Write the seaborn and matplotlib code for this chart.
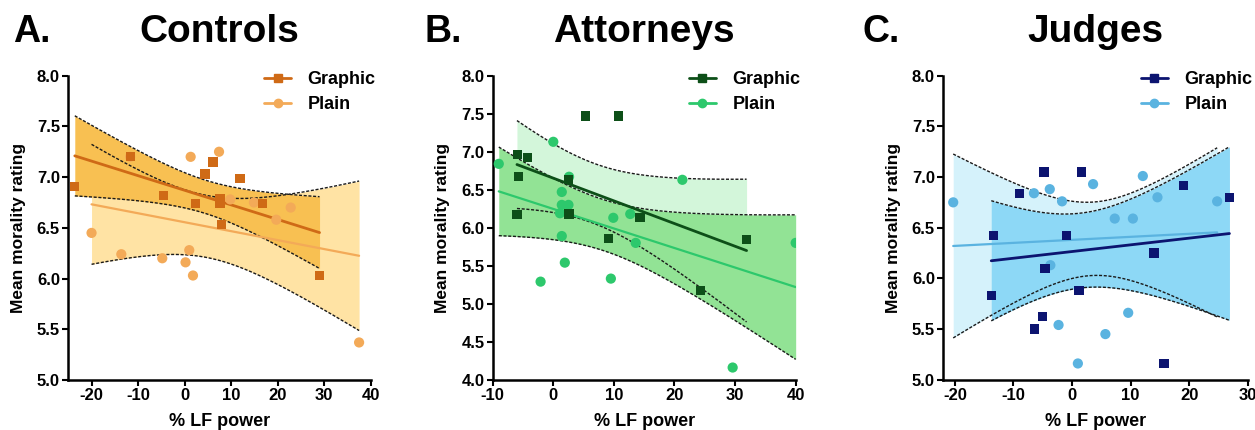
import math
import numpy as np
import matplotlib
matplotlib.use("Agg")
import matplotlib.pyplot as plt
from matplotlib.lines import Line2D
import seaborn as sns

# ------------------------------------------------------------------ data
ctrl_graphic_x = [-23.6, -11.7, -4.6, 2.4, 4.4, 6.1, 7.6, 7.6, 8.0, 11.9, 16.7, 29.0]
ctrl_graphic_y = [6.91, 7.20, 6.82, 6.74, 7.03, 7.15, 6.79, 6.74, 6.53, 6.99, 6.74, 6.03]
ctrl_plain_x = [-20.0, -13.6, -11.7, -4.8, 0.2, 1.8, 1.0, 1.3, 7.4, 9.8, 14.9, 19.7, 22.8, 37.5]
ctrl_plain_y = [6.45, 6.24, 7.20, 6.20, 6.16, 6.03, 6.28, 7.20, 7.25, 6.78, 6.75, 6.58, 6.70, 5.37]

att_graphic_x = [-5.9, -4.3, -5.8, -6.0, 2.5, 2.6, 5.3, 10.7, 9.1, 14.3, 31.9, 24.3]
att_graphic_y = [6.96, 6.92, 6.67, 6.17, 6.63, 6.18, 7.47, 7.47, 5.86, 6.13, 5.84, 5.17]
att_plain_x = [-9.0, 0.0, 1.4, 2.6, 1.4, 2.5, 1.1, 1.4, 1.9, -2.1, 9.5, 9.9, 12.7, 13.6, 21.3, 40.0, 29.6]
att_plain_y = [6.84, 7.13, 6.47, 6.67, 6.30, 6.30, 6.19, 5.89, 5.54, 5.29, 5.33, 6.13, 6.18, 5.80, 6.63, 5.80, 4.16]

judge_graphic_x = [-13.4, -13.8, -9.0, -4.8, -4.6, -1.0, 1.6, 1.2, 14.0, 19.1, 26.9, -5.0, -6.4, 15.7]
judge_graphic_y = [6.42, 5.83, 6.84, 7.05, 6.10, 6.42, 7.05, 5.88, 6.25, 6.92, 6.80, 5.62, 5.50, 5.16]
judge_plain_x = [-20.3, -6.5, -3.8, -1.7, 3.6, 7.3, 10.4, 12.1, 14.6, 24.8, -3.7, -2.3, 5.7, 9.6, 1.0]
judge_plain_y = [6.75, 6.84, 6.88, 6.76, 6.93, 6.59, 6.59, 7.01, 6.80, 6.76, 6.13, 5.54, 5.45, 5.66, 5.16]

panel_letters = ["A.", "B.", "C."]
panel_titles = ["Controls", "Attorneys", "Judges"]
series_labels = ["Graphic", "Plain"]
x_label = "% LF power"
y_label = "Mean morality rating"
x_ticks = [[-20, -10, 0, 10, 20, 30, 40], [-10, 0, 10, 20, 30, 40], [-20, -10, 0, 10, 20, 30]]
y_ticks = [[5.0, 5.5, 6.0, 6.5, 7.0, 7.5, 8.0],
           [4.0, 4.5, 5.0, 5.5, 6.0, 6.5, 7.0, 7.5, 8.0],
           [5.0, 5.5, 6.0, 6.5, 7.0, 7.5, 8.0]]

# ------------------------------------------------------------------ style
sns.set_style("ticks")
plt.rcParams["font.family"] = ["Liberation Sans", "DejaVu Sans"]
plt.rcParams["font.weight"] = "bold"
for key in ("text.color", "axes.labelcolor", "xtick.color", "ytick.color", "axes.edgecolor"):
    plt.rcParams[key] = "black"


def t_crit(df, q=0.975):
    xs = np.linspace(0, 30, 300001)
    c = math.gamma((df + 1) / 2) / (math.sqrt(df * math.pi) * math.gamma(df / 2))
    pdf = c * (1 + xs ** 2 / df) ** (-(df + 1) / 2)
    cdf = 0.5 + np.concatenate([[0.0], np.cumsum((pdf[1:] + pdf[:-1]) / 2 * np.diff(xs))])
    return float(np.interp(q, cdf, xs))


def conf_band(x, y, n=300):
    x = np.asarray(x, float)
    y = np.asarray(y, float)
    b, a = np.polyfit(x, y, 1)
    k = len(x)
    res = y - (a + b * x)
    s = np.sqrt(np.sum(res ** 2) / (k - 2))
    xm = x.mean()
    sxx = np.sum((x - xm) ** 2)
    gx = np.linspace(x.min(), x.max(), n)
    gy = a + b * gx
    hw = t_crit(k - 2) * s * np.sqrt(1 / k + (gx - xm) ** 2 / sxx)
    return gx, gy - hw, gy + hw


panels = [
    dict(gx=ctrl_graphic_x, gy=ctrl_graphic_y, px=ctrl_plain_x, py=ctrl_plain_y,
         gcol="#CF6A16", pcol="#F3AA58", gband="#F8C052", pband="#FFE3A4",
         graphic_band_on_top=True, xlim=(-25, 40), ylim=(5.0, 8.0),
         rect=[0.0544, 0.1163, 0.2410, 0.7077]),
    dict(gx=att_graphic_x, gy=att_graphic_y, px=att_plain_x, py=att_plain_y,
         gcol="#0D4F18", pcol="#2DC86C", gband="#D3F6DA", pband="#92E395",
         graphic_band_on_top=False, xlim=(-10, 40), ylim=(4.0, 8.0),
         rect=[0.3926, 0.1170, 0.2414, 0.7070]),
    dict(gx=judge_graphic_x, gy=judge_graphic_y, px=judge_plain_x, py=judge_plain_y,
         gcol="#0C1470", pcol="#5AB3E0", gband="#8DD8F6", pband="#D5F2FB",
         graphic_band_on_top=True, xlim=(-22, 30), ylim=(5.0, 8.0),
         rect=[0.7516, 0.1170, 0.2425, 0.7070]),
]

fig = plt.figure(figsize=(12.55, 4.3), dpi=100)
letter_x = [0.0104, 0.3386, 0.6869]

for i, p in enumerate(panels):
    ax = fig.add_axes(p["rect"])
    zg, zp = (2, 1) if p["graphic_band_on_top"] else (1, 2)

    for xs, ys, band, z in [(p["gx"], p["gy"], p["gband"], zg), (p["px"], p["py"], p["pband"], zp)]:
        bx, lo, hi = conf_band(xs, ys)
        ax.fill_between(bx, lo, hi, color=band, lw=0, zorder=z)
        for edge in (lo, hi):
            ax.plot(bx, edge, color="#1a1a1a", lw=1.0, ls=(0, (2.2, 1.2)), zorder=4)

    sns.regplot(x=p["px"], y=p["py"], ax=ax, scatter=False, ci=None, truncate=True,
                line_kws=dict(color=p["pcol"], lw=1.6, zorder=5))
    sns.regplot(x=p["gx"], y=p["gy"], ax=ax, scatter=False, ci=None, truncate=True,
                line_kws=dict(color=p["gcol"], lw=2.0, zorder=5))

    sns.scatterplot(x=p["px"], y=p["py"], ax=ax, marker="o", s=54, color=p["pcol"],
                    edgecolor="none", linewidth=0, zorder=6)
    sns.scatterplot(x=p["gx"], y=p["gy"], ax=ax, marker="s", s=44, color=p["gcol"],
                    edgecolor="none", linewidth=0, zorder=7)

    ax.set_xlim(*p["xlim"])
    ax.set_ylim(*p["ylim"])
    ax.set_xticks(x_ticks[i])
    ax.set_yticks(y_ticks[i])
    ax.set_xticklabels([f"{v:d}" for v in x_ticks[i]], fontsize=12, fontweight="bold")
    ax.set_yticklabels([f"{v:.1f}" for v in y_ticks[i]], fontsize=12, fontweight="bold")
    ax.tick_params(axis="both", length=4, width=1.5, pad=2, color="black")
    for side in ("left", "bottom"):
        ax.spines[side].set_linewidth(1.8)
        ax.spines[side].set_color("black")
    sns.despine(ax=ax)
    ax.set_xlabel(x_label, fontsize=13, fontweight="bold", labelpad=7)
    ax.set_ylabel(y_label, fontsize=12.5, fontweight="bold", labelpad=8)

    handles = [Line2D([0], [0], color=p["gcol"], lw=2, marker="s", markersize=6),
               Line2D([0], [0], color=p["pcol"], lw=2, marker="o", markersize=6)]
    ax.legend(handles, series_labels, loc="upper right", bbox_to_anchor=(1.045, 1.045),
              frameon=False, borderpad=0, handlelength=1.5, handletextpad=0.9,
              labelspacing=0.45, prop=dict(size=13, weight="bold"))

    l, b, w, h = p["rect"]
    fig.text(letter_x[i], 0.925, panel_letters[i], fontsize=27, fontweight="bold",
             ha="left", va="center", color="black")
    fig.text(l + w / 2, 0.925, panel_titles[i], fontsize=28, fontweight="bold",
             ha="center", va="center", color="black")

fig.savefig("out.png", dpi=100)
